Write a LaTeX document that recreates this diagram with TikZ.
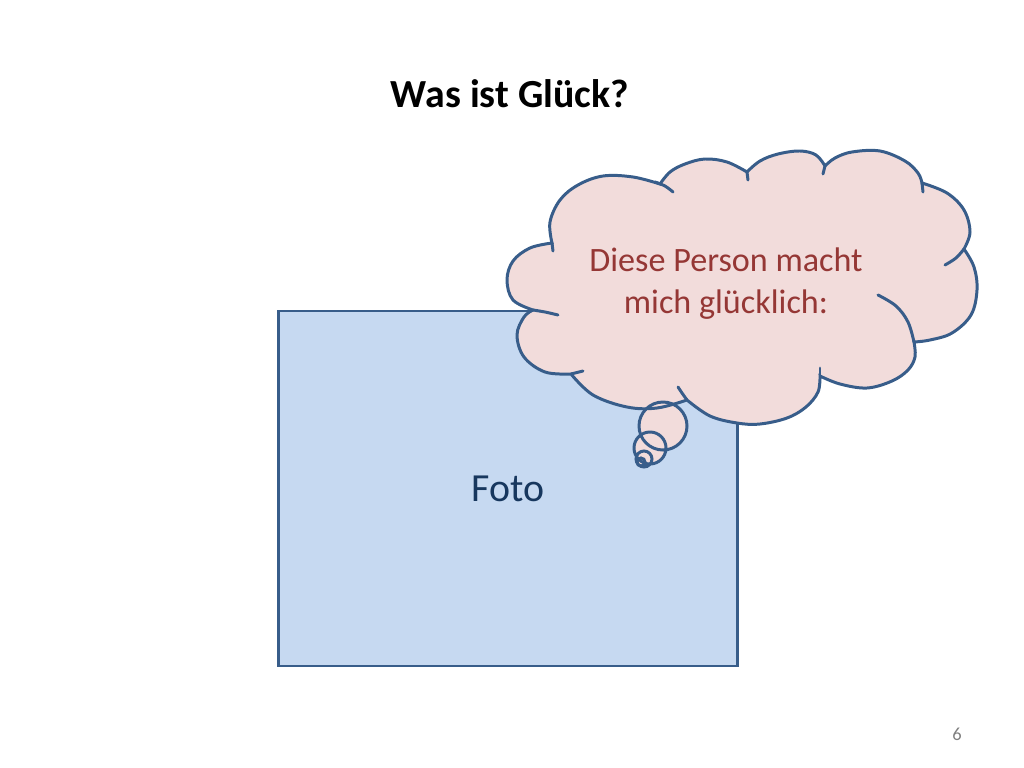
\documentclass[tikz,border=0pt]{standalone}
\usepackage{fontspec}
\setmainfont{Carlito}
\usetikzlibrary{positioning}

\definecolor{umriss}{HTML}{385D8A}
\definecolor{fotoblau}{HTML}{C6D9F1}
\definecolor{wolkerot}{HTML}{F2DCDB}
\definecolor{textrot}{HTML}{953735}
\definecolor{textblau}{HTML}{17375E}

\begin{document}
\begin{tikzpicture}[x=0.703pt, y=-0.703pt,
    fotobox/.style={rectangle, draw=umriss, fill=fotoblau, line width=2pt,
    minimum width=323pt, minimum height=249.5pt, text=textblau,
    font=\fontsize{28}{34}\selectfont},
    wolke/.style={fill=wolkerot},
    rand/.style={draw=umriss, line width=2.1pt, line cap=round},
    lobe/.style={smooth, tension=0.6}]
    \useasboundingbox (0,0) rectangle (1024,768);

    \node (titel) [anchor=base, font=\fontsize{28}{34}\selectfont\bfseries] at (510,107) {Was ist Glück?};

    \node (foto) [fotobox] at (508,488.5) {Foto};

    % Wolke: Fuellung
    \path[wolke] plot[lobe] coordinates {(552,243) (550,222) (560,200) (578,185) (603,176) (633,177) (660,184)}
        -- plot[lobe] coordinates {(660,184) (670,172) (685,164) (705,159) (727,162) (747,172)}
        -- plot[lobe] coordinates {(747,172) (760,161) (778,154) (800,151) (816,155) (825,166)}
        -- plot[lobe] coordinates {(825,166) (835,158) (852,152) (880,151) (905,161) (918,173) (922,183)}
        -- plot[lobe] coordinates {(922,183) (947,193) (964,210) (970,232) (964,249)}
        -- plot[lobe] coordinates {(964,249) (974,267) (977,290) (971,315) (952,333) (930,340) (914,342)}
        -- plot[lobe] coordinates {(914,342) (915,357) (908,370) (892,381) (867,388) (840,384) (820,376)}
        -- plot[lobe] coordinates {(820,376) (818,392) (806,407) (787,418) (760,424) (737,423) (710,416) (687,400)}
        -- plot[lobe] coordinates {(687,400) (657,408) (627,407) (593,395) (571,374)}
        -- plot[lobe] coordinates {(571,374) (545,372) (524,357) (517,335) (524,317) (533,310)}
        -- plot[lobe] coordinates {(533,310) (513,300) (507,280) (513,261) (530,248) (552,243)} -- cycle;
    \fill[wolke] (663,426) circle[radius=24] (650,448) circle[radius=16] (644,459) circle[radius=8];

    % Wolke: Rand
    \draw[rand] plot[lobe] coordinates {(552,243) (550,222) (560,200) (578,185) (603,176) (633,177) (660,184)}
        -- plot[lobe] coordinates {(660,184) (670,172) (685,164) (705,159) (727,162) (747,172)}
        -- plot[lobe] coordinates {(747,172) (760,161) (778,154) (800,151) (816,155) (825,166)}
        -- plot[lobe] coordinates {(825,166) (835,158) (852,152) (880,151) (905,161) (918,173) (922,183)}
        -- plot[lobe] coordinates {(922,183) (947,193) (964,210) (970,232) (964,249)}
        -- plot[lobe] coordinates {(964,249) (974,267) (977,290) (971,315) (952,333) (930,340) (914,342)}
        -- plot[lobe] coordinates {(914,342) (915,357) (908,370) (892,381) (867,388) (840,384) (820,376)}
        -- plot[lobe] coordinates {(820,376) (818,392) (806,407) (787,418) (760,424) (737,423) (710,416) (687,400)}
        -- plot[lobe] coordinates {(687,400) (657,408) (627,407) (593,395) (571,374)}
        -- plot[lobe] coordinates {(571,374) (545,372) (524,357) (517,335) (524,317) (533,310)}
        -- plot[lobe] coordinates {(533,310) (513,300) (507,280) (513,261) (530,248) (552,243)} -- cycle;
    \draw[rand] (552,243) -- (553,251);
    \draw[rand] plot[lobe] coordinates {(655,182) (665,186) (673,192)};
    \draw[rand] (747,172) -- (748,180);
    \draw[rand] (825,166) -- (823,174);
    \draw[rand] (922,183) -- (923,192);
    \draw[rand] plot[lobe] coordinates {(964,249) (956,258) (945,265)};
    \draw[rand] plot[lobe] coordinates {(878,295) (896,306) (908,322) (914,342)};
    \draw[rand] (820,376) -- (820,368);
    \draw[rand] plot[lobe] coordinates {(687,400) (682,393) (678,387)};
    \draw[rand] (571,374) -- (583,371);
    \draw[rand] plot[lobe] coordinates {(533,310) (545,312) (558,315)};
    \draw[rand] (663,426) circle[radius=24] (650,448) circle[radius=16] (644,459) circle[radius=8];
    \draw[rand] (641,462) circle[radius=4];

    \node (gedanke) [anchor=base, align=center, text=textrot,
        font=\fontsize{24}{29}\selectfont] at (726,313) {Diese Person macht\\mich glücklich:};

    \node (seite) [text=gray, font=\fontsize{13}{15}\selectfont] at (957,734) {6};
\end{tikzpicture}
\end{document}
